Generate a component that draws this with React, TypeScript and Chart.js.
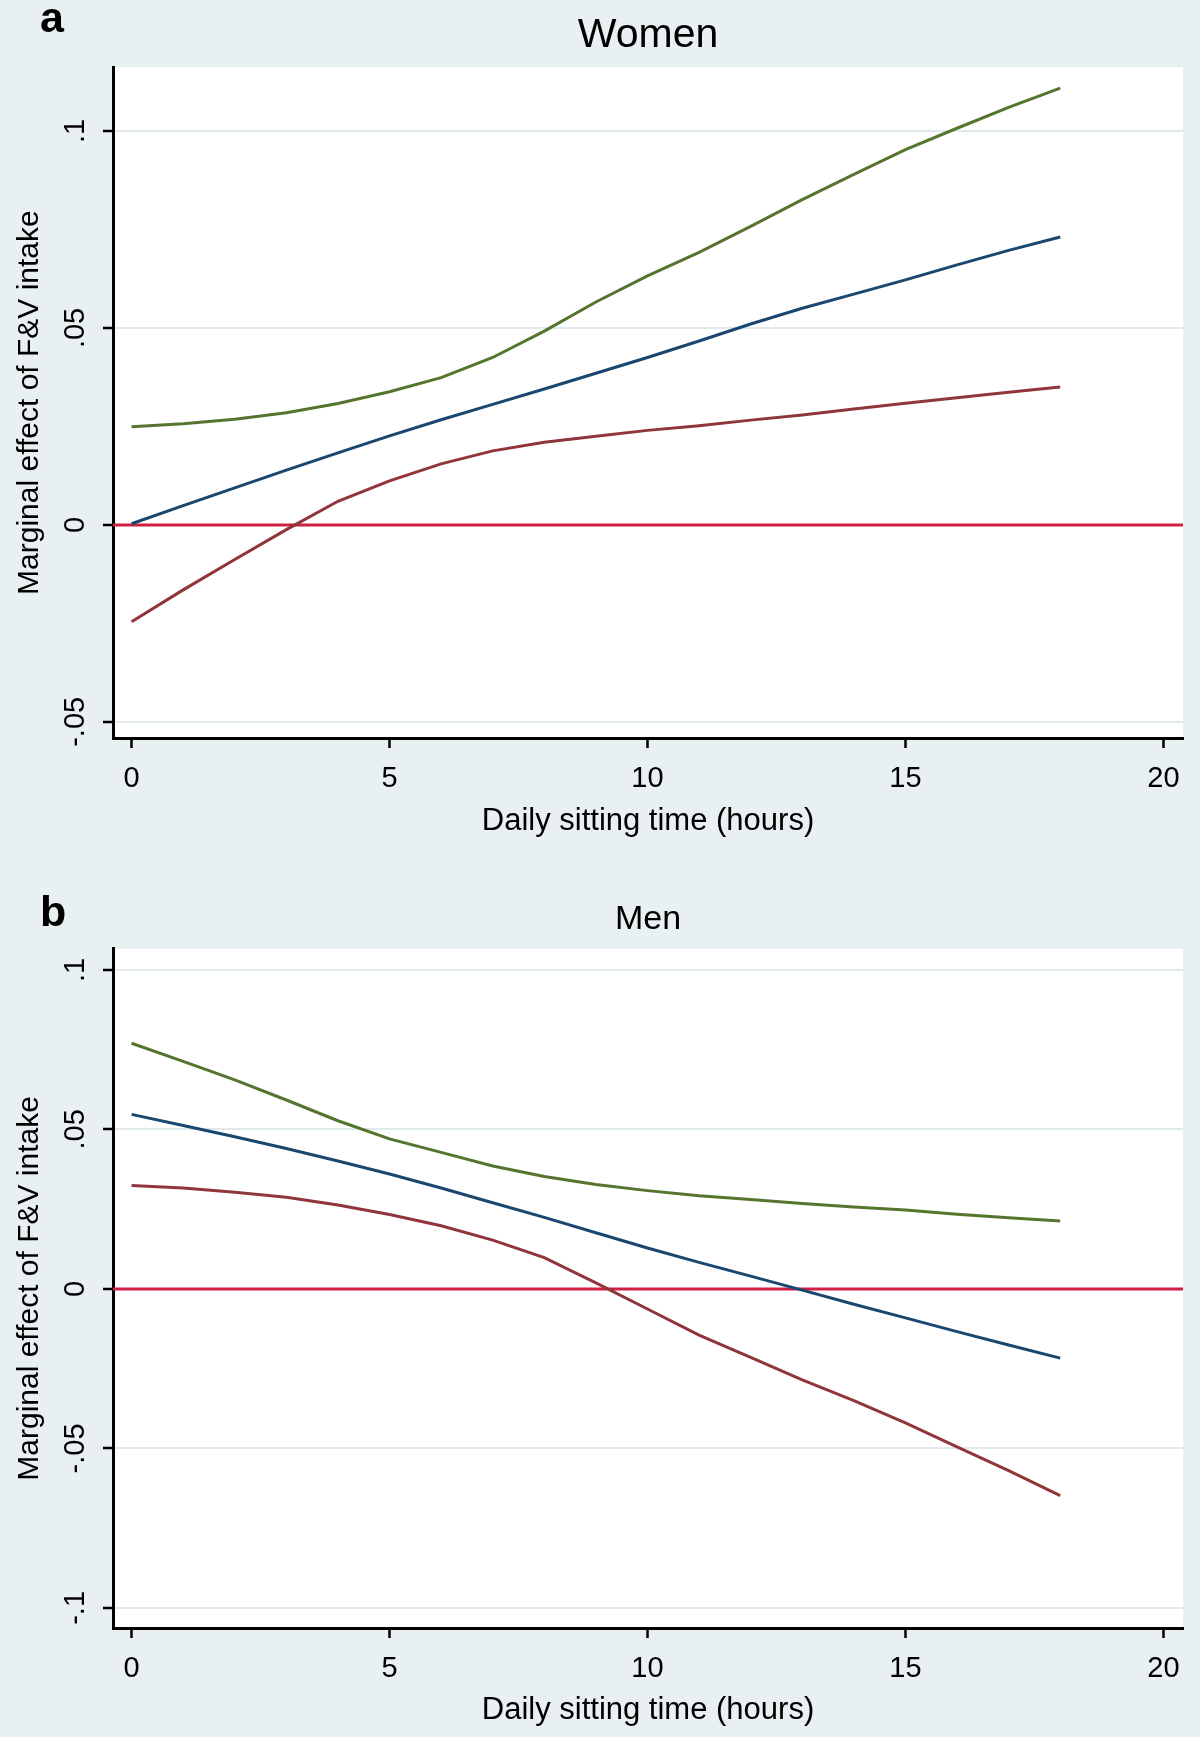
import { useEffect, useRef } from "react";
import { Chart, registerables } from "chart.js";

Chart.register(...registerables);

// Daily sitting time (hours) at which the margins are drawn
const HOURS = [0, 1, 2, 3, 4, 5, 6, 7, 8, 9, 10, 11, 12, 13, 14, 15, 16, 17, 18];

// Women: upper CI, marginal effect, lower CI
const WOMEN_UPPER = [
  0.0249, 0.0257, 0.0268, 0.0285, 0.0308, 0.0338, 0.0374, 0.0425, 0.0492,
  0.0566, 0.0632, 0.0692, 0.0758, 0.0826, 0.089, 0.0953, 0.1007, 0.106, 0.1109,
];
const WOMEN_EFFECT = [
  0.0003, 0.0049, 0.0094, 0.0139, 0.0183, 0.0226, 0.0267, 0.0306, 0.0345,
  0.0385, 0.0425, 0.0467, 0.051, 0.055, 0.0586, 0.0622, 0.066, 0.0697, 0.0731,
];
const WOMEN_LOWER = [
  -0.0246, -0.0165, -0.0088, -0.0012, 0.006, 0.0112, 0.0155, 0.0188, 0.021,
  0.0225, 0.024, 0.0252, 0.0266, 0.0279, 0.0294, 0.0309, 0.0323, 0.0337, 0.035,
];

// Men: upper CI, marginal effect, lower CI
const MEN_UPPER = [
  0.077, 0.0713, 0.0655, 0.0592, 0.0527, 0.047, 0.0428, 0.0385, 0.0352, 0.0327,
  0.0308, 0.0292, 0.028, 0.0268, 0.0257, 0.0247, 0.0234, 0.0223, 0.0213,
];
const MEN_EFFECT = [
  0.0547, 0.0512, 0.0477, 0.044, 0.0401, 0.036, 0.0316, 0.027, 0.0224, 0.0176,
  0.0128, 0.0083, 0.004, -0.0004, -0.0048, -0.0091, -0.0134, -0.0176, -0.0217,
];
const MEN_LOWER = [
  0.0324, 0.0316, 0.0303, 0.0287, 0.0263, 0.0233, 0.0198, 0.0153, 0.0098,
  0.0019, -0.0063, -0.0145, -0.0215, -0.0285, -0.035, -0.042, -0.0495, -0.057,
  -0.0648,
];

const REFERENCE_LEVEL = 0;

const X_TICKS = [0, 5, 10, 15, 20];
const X_MIN = -0.36;
const X_MAX = 20.38;

const WOMEN_Y_TICKS = [-0.05, 0, 0.05, 0.1];
const WOMEN_Y_LABELS = ["-.05", "0", ".05", ".1"];
const MEN_Y_TICKS = [-0.1, -0.05, 0, 0.05, 0.1];
const MEN_Y_LABELS = ["-.1", "-.05", "0", ".05", ".1"];

const FONT = "'Liberation Sans', Arial, sans-serif";
const BG = "#e8f0f2";

const plotBackground = {
  id: "plotBackground",
  beforeDraw(chart: Chart) {
    const { ctx, chartArea } = chart;
    ctx.save();
    ctx.fillStyle = "#ffffff";
    ctx.fillRect(
      chartArea.left,
      chartArea.top,
      chartArea.right - chartArea.left,
      chartArea.bottom - chartArea.top,
    );
    ctx.restore();
  },
};

interface PanelProps {
  title: string;
  titleSize: number;
  titlePadding: { top: number; bottom: number };
  upper: number[];
  effect: number[];
  lower: number[];
  yMin: number;
  yMax: number;
  yTicks: number[];
  yLabels: string[];
  height: number;
  xAxisHeight: number;
  xTitleBottom: number;
  bottomPadding: number;
}

function Panel(props: PanelProps) {
  const chartRef = useRef<HTMLCanvasElement>(null);

  useEffect(() => {
    if (!chartRef.current) return;
    const ctx = chartRef.current.getContext("2d");
    if (!ctx) return;

    const toPoints = (values: number[]) =>
      HOURS.map((h, i) => ({ x: h, y: values[i] }));

    const line = (values: number[], color: string) => ({
      data: toPoints(values),
      borderColor: color,
      backgroundColor: color,
      borderWidth: 3,
      pointRadius: 0,
      tension: 0,
      fill: false,
    });

    const chart = new Chart(ctx, {
      type: "line",
      data: {
        datasets: [
          line(props.upper, "#55752f"),
          line(props.effect, "#1a476f"),
          line(props.lower, "#90353b"),
          {
            data: [
              { x: X_MIN, y: REFERENCE_LEVEL },
              { x: X_MAX, y: REFERENCE_LEVEL },
            ],
            borderColor: "#cf1f45",
            borderWidth: 3,
            pointRadius: 0,
            fill: false,
          },
        ],
      },
      options: {
        animation: false,
        responsive: true,
        maintainAspectRatio: false,
        layout: {
          padding: { left: 0, right: 17, top: 0, bottom: props.bottomPadding },
        },
        plugins: {
          legend: { display: false },
          tooltip: { enabled: false },
          title: {
            display: true,
            fullSize: false,
            text: props.title,
            color: "#000",
            font: { family: FONT, size: props.titleSize, weight: "normal" },
            padding: props.titlePadding,
          },
        },
        scales: {
          x: {
            type: "linear",
            min: X_MIN,
            max: X_MAX,
            afterBuildTicks: (scale) => {
              scale.ticks = X_TICKS.map((value) => ({ value }));
            },
            afterFit: (scale) => {
              scale.height = props.xAxisHeight;
            },
            border: { display: true, color: "#000", width: 3 },
            grid: {
              drawOnChartArea: false,
              drawTicks: true,
              tickLength: 10,
              tickColor: "#000",
              tickWidth: 2.5,
            },
            ticks: {
              color: "#000",
              padding: 14,
              maxRotation: 0,
              font: { family: FONT, size: 29 },
              callback: (value) => String(value),
            },
            title: {
              display: true,
              text: "Daily sitting time (hours)",
              color: "#000",
              font: { family: FONT, size: 31 },
              padding: { top: 0, bottom: props.xTitleBottom },
            },
          },
          y: {
            type: "linear",
            min: props.yMin,
            max: props.yMax,
            afterBuildTicks: (scale) => {
              scale.ticks = props.yTicks.map((value) => ({ value }));
            },
            afterFit: (scale) => {
              scale.width = 113;
            },
            border: { display: true, color: "#000", width: 3 },
            grid: {
              color: "#e0eaed",
              lineWidth: 2,
              drawTicks: true,
              tickLength: 10,
              tickColor: "#000",
              tickWidth: 2.5,
            },
            ticks: {
              color: "#000",
              minRotation: 90,
              maxRotation: 90,
              crossAlign: "center",
              padding: 2,
              font: { family: FONT, size: 29 },
              callback: (value) =>
                props.yLabels[props.yTicks.indexOf(Number(value))] ?? "",
            },
            title: {
              display: true,
              text: "Marginal effect of F&V intake",
              color: "#000",
              font: { family: FONT, size: 30 },
              padding: { top: 12, bottom: 0 },
            },
          },
        },
      },
      plugins: [plotBackground],
    });

    return () => chart.destroy();
  }, [props]);

  return (
    <div style={{ position: "relative", width: 1200, height: props.height }}>
      <canvas ref={chartRef} />
    </div>
  );
}

const letterStyle = {
  position: "absolute" as const,
  left: 40,
  fontFamily: FONT,
  fontWeight: "bold" as const,
  fontSize: 43,
  lineHeight: "43px",
  color: "#000",
};

export default function App() {
  return (
    <div
      style={{
        position: "absolute",
        left: 0,
        top: 0,
        width: 1200,
        height: 1737,
        background: BG,
        overflow: "hidden",
      }}
    >
      <Panel
        title="Women"
        titleSize={41}
        titlePadding={{ top: 11, bottom: 7 }}
        upper={WOMEN_UPPER}
        effect={WOMEN_EFFECT}
        lower={WOMEN_LOWER}
        yMin={-0.0541}
        yMax={0.1162}
        yTicks={WOMEN_Y_TICKS}
        yLabels={WOMEN_Y_LABELS}
        height={868}
        xAxisHeight={110}
        xTitleBottom={8}
        bottomPadding={20}
      />
      <Panel
        title="Men"
        titleSize={34}
        titlePadding={{ top: 31, bottom: 9 }}
        upper={MEN_UPPER}
        effect={MEN_EFFECT}
        lower={MEN_LOWER}
        yMin={-0.1063}
        yMax={0.1066}
        yTicks={MEN_Y_TICKS}
        yLabels={MEN_Y_LABELS}
        height={869}
        xAxisHeight={108}
        xTitleBottom={7}
        bottomPadding={1}
      />
      <div style={{ ...letterStyle, top: -4 }}>a</div>
      <div style={{ ...letterStyle, top: 890 }}>b</div>
    </div>
  );
}
